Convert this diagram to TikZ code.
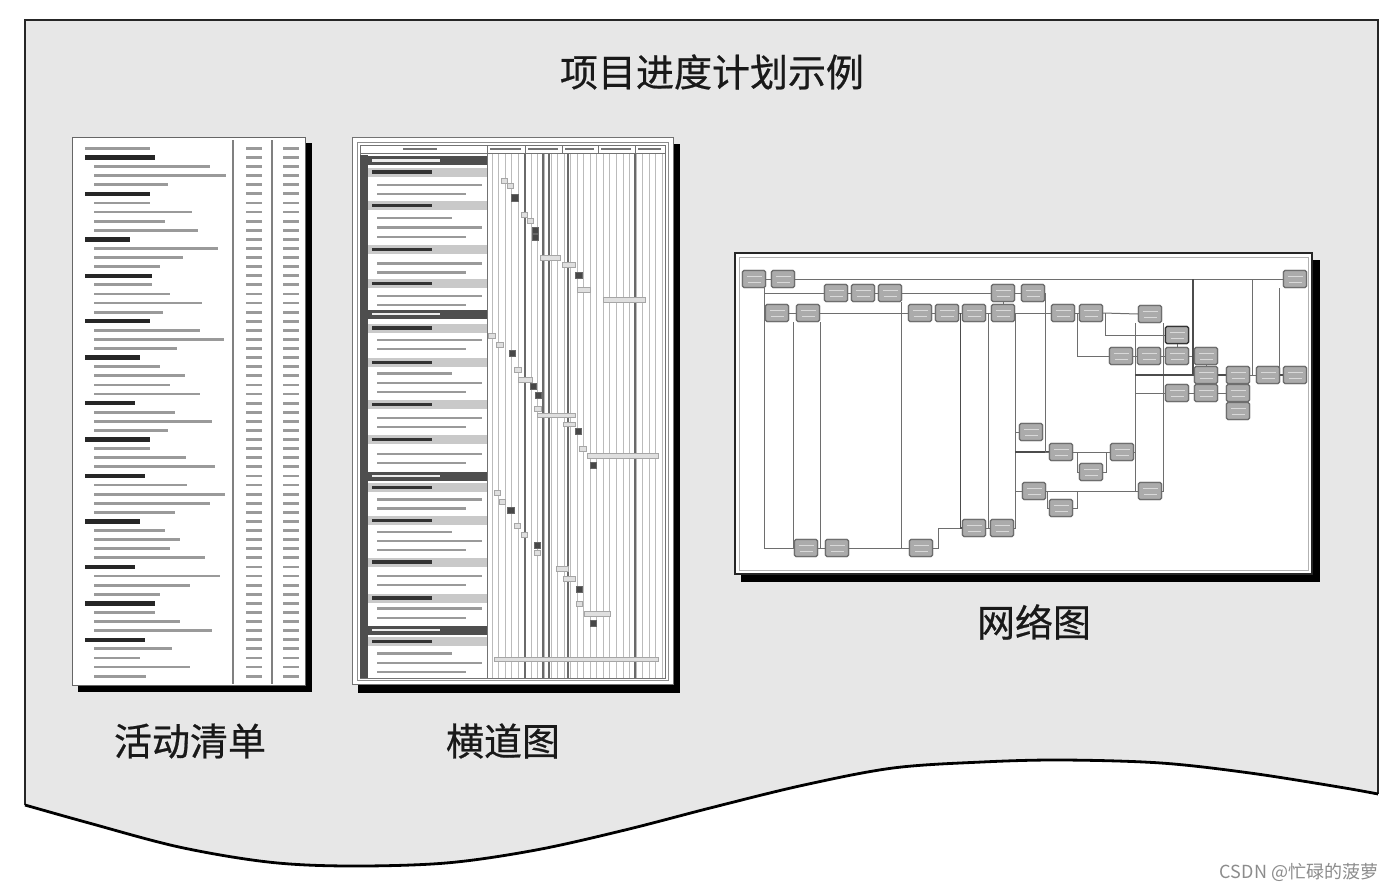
\documentclass[tikz,border=0pt]{standalone}
\usepackage{fontspec}
\newfontfamily\cjkfont{Noto Sans CJK SC}
\newfontfamily\cjkheavy[FakeBold=0.6]{Noto Sans CJK SC}
\usetikzlibrary{calc}
\definecolor{docfill}{HTML}{E7E7E7}
\definecolor{netfill}{HTML}{ABABAB}
\definecolor{netline}{HTML}{6E6E6E}
\definecolor{txtgray}{HTML}{9A9A9A}
\definecolor{darkrow}{HTML}{4E4E4E}
\definecolor{subrow}{HTML}{C9C9C9}
\definecolor{gridgray}{HTML}{BBBBBB}
\definecolor{griddark}{HTML}{6A6A6A}
\tikzset{
  bigtitle/.style={font=\cjkheavy\fontsize{38}{40}\selectfont, text=black!90, inner sep=0},
  netnode/.style={draw=netline, fill=netfill, line width=1.1, rounded corners=1.5,
    minimum width=23, minimum height=17, inner sep=0,
    path picture={
      \draw[gray!30, line width=1] ([xshift=4,yshift=-5.5]path picture bounding box.north west) -- ([xshift=-4,yshift=-5.5]path picture bounding box.north east);
      \draw[gray!30, line width=1] ([xshift=5,yshift=5.5]path picture bounding box.south west) -- ([xshift=-5,yshift=5.5]path picture bounding box.south east);
    }},
  net/.style={draw=netline, line width=1},
  netbold/.style={draw=black!70, line width=1.8},
  pageshadow/.style={fill=black},
  lightbar/.style={fill=gray!25, draw=gray!70, line width=0.6},
  darkbar/.style={fill=black!72, draw=black!60, line width=0.6},
}
\begin{document}
\begin{tikzpicture}[x=1pt,y=-1pt]
\useasboundingbox (0,0) rectangle (1400,891);
\fill[white] (0,0) rectangle (1400,891);

% document sheet
\fill[docfill] (25,20) -- (1378,20) -- (1378,794) -- plot[smooth,tension=0.55] coordinates {(1378,794) (1339,787) (1250,773) (1161,763) (1062,760) (982,762) (893,768) (804,785) (714,807) (625,830) (536,850) (446,863) (348,866) (268,862) (179,847) (89,823) (25,805)} -- cycle;
\draw[black!85, line width=1.6] (25,805) -- (25,20) -- (1378,20) -- (1378,794);
\draw[black, line width=2.8] plot[smooth,tension=0.55] coordinates {(1378,794) (1339,787) (1250,773) (1161,763) (1062,760) (982,762) (893,768) (804,785) (714,807) (625,830) (536,850) (446,863) (348,866) (268,862) (179,847) (89,823) (25,805)};

% ================= activity list =================
\fill[pageshadow] (78,143) rectangle (312,692);
\draw[fill=white, draw=black!60, line width=1] (72,137) rectangle (305,685);
\draw[gray, line width=1.1] (233,140) -- (233,684) (272,140) -- (272,684);
\foreach \k in {0,...,58} {
  \fill[txtgray] (246,{148.3+9.1*\k-1.4}) rectangle (262,{148.3+9.1*\k+1.4});
  \fill[txtgray] (283,{148.3+9.1*\k-1.4}) rectangle (299,{148.3+9.1*\k+1.4});
}
\fill[txtgray] (85,146.8) rectangle (150,149.8);
\foreach \k/\e in {1/155,5/150,10/130,14/152,19/150,23/140,28/135,32/150,36/145,41/140,46/135,50/155,54/145}
  \fill[black!85] (85,{148.3+9.1*\k-2.2}) rectangle (\e,{148.3+9.1*\k+2.2});
\foreach \k/\e in {2/210,3/226,4/168,6/150,7/192,8/165,9/198,11/218,12/183,13/160,15/152,16/170,17/202,18/163,20/200,21/224,22/177,24/160,25/185,26/170,27/200,29/175,30/212,31/168,33/150,34/186,35/215,37/187,38/225,39/210,40/175,42/165,43/180,44/170,45/205,47/220,48/190,49/160,51/155,52/180,53/212,55/172,56/140,57/190,58/146}
  \fill[txtgray] (94,{148.3+9.1*\k-1.4}) rectangle (\e,{148.3+9.1*\k+1.4});

% ================= Gantt chart =================
\fill[pageshadow] (358,144) rectangle (680,693);
\draw[fill=white, draw=black!55, line width=1] (352,137) rectangle (673,684);
\draw[black!45, line width=0.8] (357,142) rectangle (668,680);
\draw[fill=white, draw=black!55, line width=0.9] (360,145) rectangle (665,678);
\foreach \i in {0,...,26}
  \draw[gridgray, line width=0.9] ({492+6.55*\i},153.5) -- ({492+6.55*\i},678);
\foreach \x in {525,543,549,568,635}
  \draw[griddark, line width=1.1] (\x,153.5) -- (\x,678);
\draw[black!55, line width=0.8] (360,153.5) -- (665,153.5);
\draw[black!55, line width=0.9] (487,145) -- (487,678);
\foreach \x in {525,562,598,635}
  \draw[black!55, line width=0.8] (\x,145) -- (\x,153.5);
\fill[black!55] (403,148.2) rectangle (437,150.4);
\foreach \a/\b in {487/525,525/562,562/598,598/635,635/665}
  \fill[black!55] ({\a+3},148.2) rectangle ({\b-4},150.4);
\fill[darkrow] (360,155) rectangle (368,678);
\foreach \y in {160.5,314,476,630} {
  \fill[darkrow] (360,{\y-4.5}) rectangle (487,{\y+4.5});
  \fill[white!85!gray] (372,{\y-1.3}) rectangle (440,{\y+1.3});
}
\foreach \y in {172,205.5,249.5,283.5,328,362.5,404.5,439.5,487.5,520.5,562,598,641.5} {
  \fill[subrow] (368,{\y-4.5}) rectangle (487,{\y+4.5});
  \fill[black!80] (372,{\y-1.7}) rectangle (432,{\y+1.7});
}
\foreach \y/\e in {185/482,194/466,218/452,227.5/482,237/466,263.5/482,272.5/466,296/482,305/466,340/482,349/466,373.5/452,383/482,392/466,418/482,427/466,454/482,463/466,499.5/482,508.5/466,532/452,541/482,550/466,576/482,585/466,608.5/482,618/466,653.5/452,663/482,672/466}
  \fill[txtgray] (377,{\y-1.2}) rectangle (\e,{\y+1.2});
\foreach \xa/\ya/\xb/\yb in {501/178.5/507/183.5, 507/183/513/188, 521/212.5/527/217.5, 527/218.5/533/223.5, 540/255/560/260, 562/262/575/267, 577/287/590/292, 603/297/645/302, 488/333/495/338, 496/342/503/347, 514/367/521/372, 518/377/532/382, 534/406/541/411, 537/413/575/417.5, 563/422/575/426.5, 579/446/586/451, 587/453/658/458, 494/490.5/500/495.5, 499.5/499/505.5/504, 514.5/523/520.5/528, 521.5/532/527.5/537, 534.5/550/540.5/555, 556/566/568/571, 563/576/575/581, 576.5/601.5/582.5/606.5, 584/611/610/616, 494/657/658/661}
  \draw[lightbar] (\xa,\ya) rectangle (\xb,\yb);
\foreach \xa/\ya/\xb/\yb in {511/194/518/201, 532.5/227/538.5/233, 532.5/234/538.5/240, 575/272/582/278, 509/350/515.5/356, 530.5/383/536.5/389, 535.5/392/541.5/398, 575/428/581.5/434, 590/462/596/468, 507/507/514/513, 534/542.5/540/548.5, 576.5/586/582.5/592, 590/620/596/626}
  \draw[darkbar] (\xa,\ya) rectangle (\xb,\yb);

% ================= network diagram =================
\fill[pageshadow] (741,260) rectangle (1320,582);
\draw[fill=white, draw=black!85, line width=2.4] (735,253) rectangle (1312,574);
\draw[black!30, line width=0.8] (739.5,257.5) rectangle (1308,570);

\coordinate (v1) at (1193,279);
\coordinate (v2) at (1252,279);
\node[netnode] (n1) at (754,279) {};
\node[netnode] (n2) at (783,279) {};
\node[netnode] (n3) at (836,293) {};
\node[netnode] (n4) at (863,293) {};
\node[netnode] (n5) at (890,293) {};
\node[netnode] (n6) at (1003,293) {};
\node[netnode] (n7) at (1033,293) {};
\node[netnode] (n8) at (777,313) {};
\node[netnode] (n9) at (808,313) {};
\node[netnode] (n10) at (920,313) {};
\node[netnode] (n11) at (947,313) {};
\node[netnode] (n12) at (974,313) {};
\node[netnode] (n13) at (1003,313) {};
\node[netnode] (n14) at (1063,313) {};
\node[netnode] (n15) at (1091,313) {};
\node[netnode] (n16) at (1150,314) {};
\node[netnode] (n17) at (1177,335) {};
\node[netnode] (n18) at (1121,356) {};
\node[netnode] (n19) at (1149,356) {};
\node[netnode] (n20) at (1177,356) {};
\node[netnode] (n21) at (1206,356) {};
\node[netnode] (n22) at (1206,375) {};
\node[netnode] (n23) at (1238,375) {};
\node[netnode] (n24) at (1268,375) {};
\node[netnode] (n25) at (1295,375) {};
\node[netnode] (n26) at (1177,393) {};
\node[netnode] (n27) at (1206,393) {};
\node[netnode] (n28) at (1238,393) {};
\node[netnode] (n29) at (1238,411) {};
\node[netnode] (n30) at (1295,279) {};
\node[netnode] (n31) at (1031,432) {};
\node[netnode] (n32) at (1061,452) {};
\node[netnode] (n33) at (1122,452) {};
\node[netnode] (n34) at (1091,472) {};
\node[netnode] (n35) at (1034,491) {};
\node[netnode] (n36) at (1150,491) {};
\node[netnode] (n37) at (1061,508) {};
\node[netnode] (n38) at (974,528) {};
\node[netnode] (n39) at (1002,528) {};
\node[netnode] (n40) at (806,548) {};
\node[netnode] (n41) at (837,548) {};
\node[netnode] (n42) at (921,548) {};
\coordinate (tA) at ([xshift=10]n1.south);
\coordinate (tD) at (n13.east);
\coordinate (tE) at ([xshift=-2.5]n16.south west);
\coordinate (tF) at ([xshift=1.5]n16.south east);

\draw[net] (n1) -- (n2);
\draw[net] (n2) -- (n30);
\draw[net] (tA) |- (n40.west);
\draw[net] (n3.west) -- (n3.west -| tA);
\draw[net] (n8.west) -- (n8.west -| tA);
\draw[net] (n3) -- (n4) -- (n5);
\draw[net] (n5.east) -- (n6.west);
\draw[net] (n6) -- (n7);
\draw[net] (n6) -- (n13);
\draw[net] ([xshift=11]n5.south) |- (n42.west);
\draw[net] (n8) -- (n9);
\draw[net] (n9.east) -- (n10.west);
\draw[net] ([xshift=16]n8.south) |- (n40.west);
\draw[net] ([xshift=12]n9.south) |- (n41.west);
\draw[net] (n40) -- (n41);
\draw[net] (n41.east) -- (n42.west);
\draw[net] (n42.east) -- ++(5,0) |- (n38.west);
\draw[net] (n10) -- (n11) -- (n12) -- (n13);
\draw[net] (n13.east) -- (n14.west);
\draw[net] (n14) -- (n15);
\draw[net] (n15.east) -- (n16.west);
\draw[netbold] ($(n11.east)!.5!(n12.west)$) |- (n38.west);
\draw[net] ($(n12.east)!.5!(n13.west)$) |- (n39.west);
\draw[net] (n38) -- (n39);
\draw[net] (tD) |- (n39.east);
\draw[net] (n31.west) -- (n31.west -| tD);
\draw[netbold] (n32.west) -- (n32.west -| tD);
\draw[net] (n35.west) -- (n35.west -| tD);
\draw[net] (n7.east) |- (n32.west);
\draw[net] (n32) -- (n33);
\draw[net] ([xshift=4]n32.east) |- (n34.west);
\draw[net] (n34.east) -| ([xshift=-3]n33.west);
\draw[net] (n35) -- (n36);
\draw[net] ([xshift=1]n35.east) |- (n37.west);
\draw[net] (n37.east) -- ++(4,0) |- (n36.west);
\draw[net] (tE) |- (n36.west);
\draw[net] (tF) |- (n36.east);
\draw[netbold] (n22.west -| tE) -- (n22.west);
\draw[net] (n26.west -| tE) -- (n26.west);
\draw[net] (n33.east) -- (n33.east -| tE);
\draw[net] ([xshift=2]n15.east) |- (n17.west);
\draw[net] ([xshift=2]n14.east) |- (n18.west);
\draw[net] (n18) -- (n19) -- (n20) -- (n21);
\draw[net] (n17) -- (n20);
\draw[netbold] (v1) |- (n22.west);
\draw[net] (v2) -- (v2 |- n23.east);
\draw[net] ([xshift=-3]n30.south west) |- (n25.west);
\draw[net] (n21) -- (n22);
\draw[netbold] (n22) -- (n23);
\draw[net] (n23) -- (n24);
\draw[netbold] (n24) -- (n25);
\draw[net] (n26) -- (n27) -- (n28);
\draw[net] (n23) -- (n28) -- (n29);
% nodes drawn again above the connectors
\foreach \n in {n1,n2,n3,n4,n5,n6,n7,n8,n9,n10,n11,n12,n13,n14,n15,n16,n17,n18,n19,n20,n21,n22,n23,n24,n25,n26,n27,n28,n29,n30,n31,n32,n33,n34,n35,n36,n37,n38,n39,n40,n41,n42}
  \node[netnode] at (\n) {};
\node[netnode, draw=black!80] at (n17) {};

% ================= labels =================
\node[bigtitle] (title) at (712,72) {项目进度计划示例};
\node[bigtitle] (lab1) at (190,741) {活动清单};
\node[bigtitle] (lab2) at (503,741) {横道图};
\node[bigtitle] (lab3) at (1034,622) {网络图};
\node[font=\cjkfont\fontsize{18}{20}\selectfont, text=black!45, inner sep=0] (wm) at (1299,872) {CSDN @忙碌的菠萝};
\end{tikzpicture}
\end{document}
